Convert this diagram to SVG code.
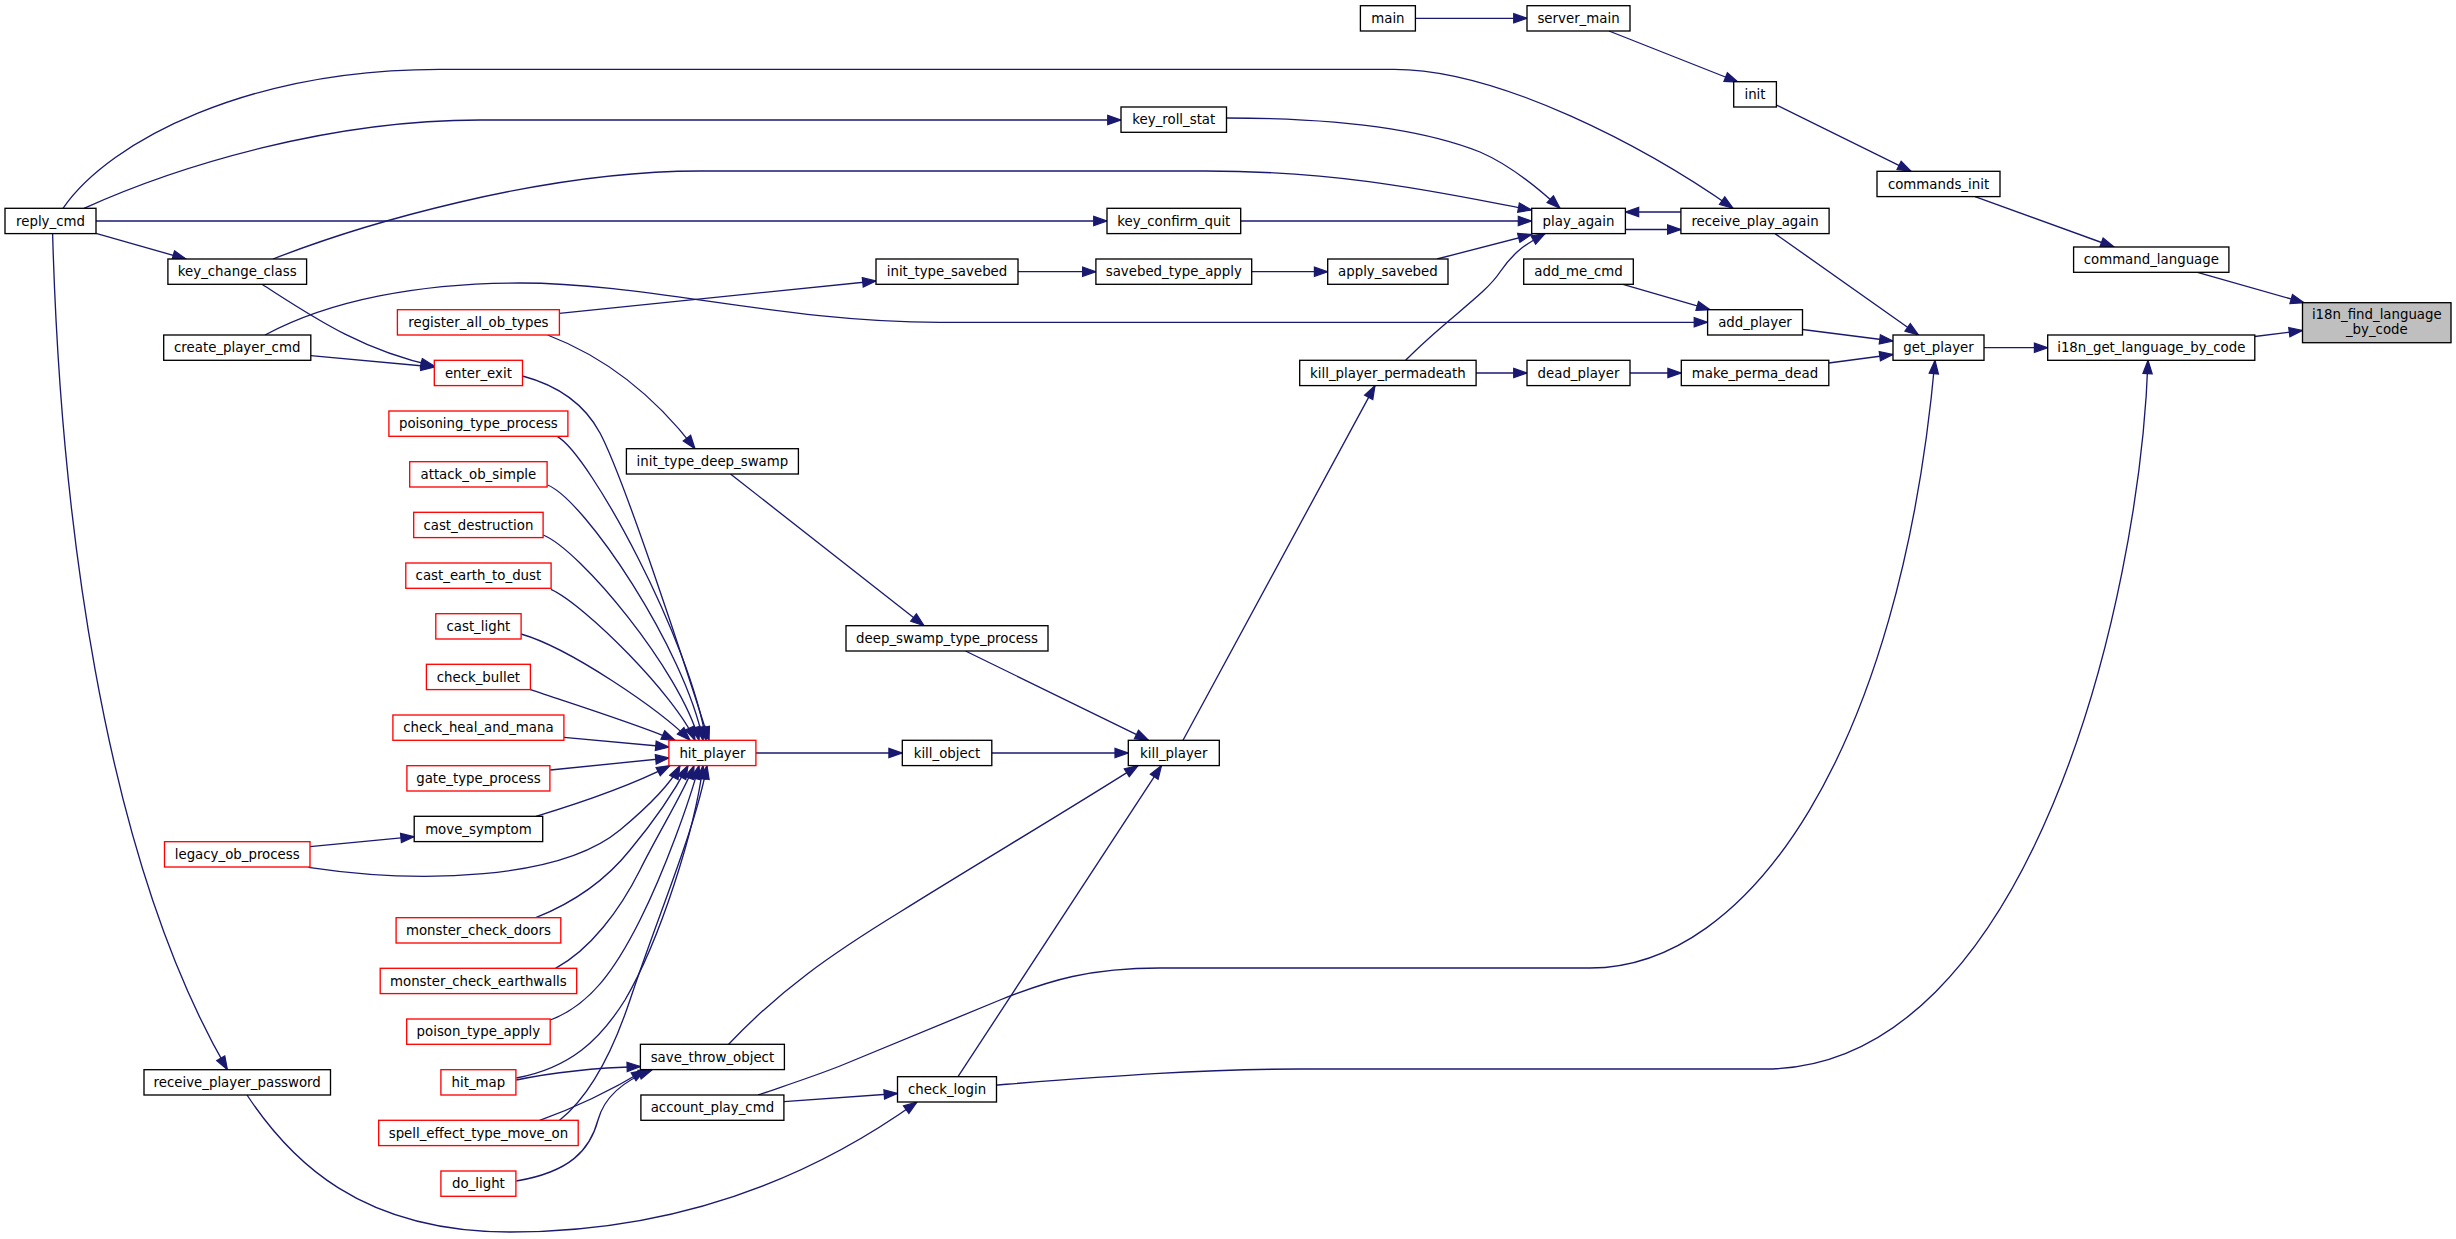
<svg xmlns="http://www.w3.org/2000/svg" width="2456" height="1239" viewBox="0 0 2456 1239">
<style>
.n rect{fill:#fff;stroke:#000;stroke-width:1.33}
.r rect{stroke:#f00}
.h rect{fill:#bfbfbf}
text{font-family:"DejaVu Sans","Liberation Sans",sans-serif;font-size:13.33px;text-anchor:middle;fill:#000}
#edges path{fill:none;stroke:#191970;stroke-width:1.33;marker-end:url(#a)}
</style>
<defs>
<marker id="a" markerUnits="userSpaceOnUse" markerWidth="16" markerHeight="12" refX="13.3" refY="4.67" orient="auto" overflow="visible">
<path d="M0,0 L13.3,4.67 L0,9.33 Z" fill="#191970" stroke="#191970" stroke-width="1.2"/>
</marker>
</defs>
<rect width="2456" height="1239" fill="#fff"/>
<g id="edges">
<path d="M2197.5,272.3 L2304,302.7"/>
<path d="M2254.8,336.5 L2302.5,330.5"/>
<path d="M1975,196.6 L2114,247"/>
<path d="M1776.3,105 L1911,171.3"/>
<path d="M1609,31 L1738,82"/>
<path d="M1415.4,18.3 L1527,18.3"/>
<path d="M1984,347.7 L2047.7,347.7"/>
<path d="M996.5,1085 C1100,1077 1200,1069 1300,1069 L1765,1069 C2030,1069 2140,600 2148,360.3"/>
<path d="M1775,233.6 L1918.5,335"/>
<path d="M1802.5,329.5 L1893,341"/>
<path d="M1828.8,363 L1893,354.5"/>
<path d="M758,1095 C790,1084 812,1077 840,1066 L1000,1000 C1050,980 1090,968 1160,968 L1590,968 C1750,968 1900,750 1935,360.3"/>
<path d="M1680.9,212 L1625.4,212"/>
<path d="M1625.4,229.5 L1680.9,229.5"/>
<path d="M63,208.3 C110,140 250,69.3 440,69.3 L1394,69.3 C1500,69.3 1647,148 1733,208.3"/>
<path d="M84,208.3 C180,165 330,120 480,120 L1121,120"/>
<path d="M1226.5,118 C1330,118 1420,128 1480,152 C1510,165 1535,185 1560,208.3"/>
<path d="M273,259 C360,225 540,171 700,171 L1205,171 C1350,171 1450,195 1531.6,210"/>
<path d="M96,221 L1107,221"/>
<path d="M1240.7,221 L1531.6,221"/>
<path d="M96,233.3 L186,259"/>
<path d="M262,284.3 C310,315 360,350 434.3,366"/>
<path d="M310.8,355.7 L434.3,367"/>
<path d="M265,335 C330,300 420,283 520,283 C650,283 780,322.3 940,322.3 L1707.5,322.3"/>
<path d="M559.4,313.3 L876,281"/>
<path d="M1018,271.7 L1095.9,271.7"/>
<path d="M1251.7,271.7 L1327.7,271.7"/>
<path d="M1437,259 L1531.6,234.5"/>
<path d="M1405.6,360.3 C1445,320 1485,295 1500,272 C1515,250 1528,243 1545,233.6"/>
<path d="M1623,284.3 L1710,309.7"/>
<path d="M1476,373 L1527,373"/>
<path d="M1630,373 L1681.2,373"/>
<path d="M1183,740.3 L1375,385.6"/>
<path d="M547.6,335 C600,355 650,390 695,448.7"/>
<path d="M730.5,474 L924,625.7"/>
<path d="M965.5,651 L1148.4,740.3"/>
<path d="M755.9,753 L902.2,753"/>
<path d="M991.7,753 L1128.3,753"/>
<path d="M728.6,1044.3 C780,990 830,955 900,912 C980,862 1060,815 1138,765.6"/>
<path d="M958,1076.7 L1161.5,765.6"/>
<path d="M784,1101.7 L897.5,1093.5"/>
<path d="M247,1095 C290,1160 360,1232 510,1232 C640,1232 780,1200 917,1102"/>
<path d="M52.6,233.6 C60,500 100,850 227.4,1069.7"/>
<path d="M536,816.3 C580,803 630,786 670,765.6"/>
<path d="M310,846.7 L414.2,836.7"/>
<path d="M308.4,867.3 C420,884 560,880 620,830 C650,805 670,785 680,765.6"/>
<path d="M535.8,917.7 C580,900 610,875 630,850 C655,820 675,790 688,765.6"/>
<path d="M555.5,968.3 C590,950 620,910 640,870 C660,830 685,790 694,765.6"/>
<path d="M550.4,1020 C590,1005 615,970 640,920 C665,870 690,800 699,765.6"/>
<path d="M516.4,1078 C570,1068 600,1040 625,1000 C660,940 695,830 703,765.6"/>
<path d="M516.4,1080 C550,1073 590,1068 640.4,1066.5"/>
<path d="M559.5,1120.3 C585,1100 610,1060 630,1000 C660,910 695,830 707,765.6"/>
<path d="M539.7,1120.3 C580,1106 615,1088 645,1070"/>
<path d="M516.4,1181 C570,1172 590,1150 598,1120 C605,1095 625,1080 652,1070"/>
<path d="M522.5,376 C560,386 585,405 600,433 C625,480 690,680 709,740.3"/>
<path d="M557.5,436.7 C590,455 690,640 706,740.3"/>
<path d="M547.6,485 C585,500 685,650 703,740.3"/>
<path d="M543.3,535 C580,550 680,670 699,740.3"/>
<path d="M551,589.3 C585,605 675,695 695,740.3"/>
<path d="M521,634 C570,648 660,710 690,740.3"/>
<path d="M530,689.3 C570,703 640,725 675,740.3"/>
<path d="M564,737.3 L669,747"/>
<path d="M550.4,770 L669,758"/>
</g>
<g id="i18n_find_language_by_code" class="n h"><rect x="2302.5" y="302.7" width="148.5" height="40"/><text x="2376.8" y="319">i18n_find_language</text><text x="2376.8" y="333.7">_by_code</text></g>
<g id="command_language" class="n"><rect x="2073.6" y="247" width="155.3" height="25.3"/><text x="2151.3" y="264.3">command_language</text></g>
<g id="i18n_get_language_by_code" class="n"><rect x="2047.7" y="335" width="207.1" height="25.3"/><text x="2151.3" y="352.3">i18n_get_language_by_code</text></g>
<g id="commands_init" class="n"><rect x="1877" y="171.3" width="123" height="25.3"/><text x="1938.5" y="188.6">commands_init</text></g>
<g id="get_player" class="n"><rect x="1893" y="335" width="91" height="25.3"/><text x="1938.5" y="352.3">get_player</text></g>
<g id="init" class="n"><rect x="1733.7" y="81.7" width="42.7" height="25.3"/><text x="1755" y="99">init</text></g>
<g id="receive_play_again" class="n"><rect x="1680.9" y="208.3" width="148.2" height="25.3"/><text x="1755" y="225.6">receive_play_again</text></g>
<g id="add_player" class="n"><rect x="1707.6" y="309.7" width="94.9" height="25.3"/><text x="1755" y="327">add_player</text></g>
<g id="make_perma_dead" class="n"><rect x="1681.3" y="360.3" width="147.5" height="25.3"/><text x="1755" y="377.6">make_perma_dead</text></g>
<g id="server_main" class="n"><rect x="1527" y="5.7" width="103" height="25.3"/><text x="1578.5" y="23">server_main</text></g>
<g id="play_again" class="n"><rect x="1531.7" y="208.3" width="93.7" height="25.3"/><text x="1578.5" y="225.6">play_again</text></g>
<g id="add_me_cmd" class="n"><rect x="1523.7" y="259" width="109.6" height="25.3"/><text x="1578.5" y="276.3">add_me_cmd</text></g>
<g id="dead_player" class="n"><rect x="1527" y="360.3" width="103" height="25.3"/><text x="1578.5" y="377.6">dead_player</text></g>
<g id="main" class="n"><rect x="1360.4" y="5.7" width="55" height="25.3"/><text x="1387.9" y="23">main</text></g>
<g id="apply_savebed" class="n"><rect x="1327.7" y="259" width="120.3" height="25.3"/><text x="1387.9" y="276.3">apply_savebed</text></g>
<g id="kill_player_permadeath" class="n"><rect x="1299.7" y="360.3" width="176.4" height="25.3"/><text x="1387.9" y="377.6">kill_player_permadeath</text></g>
<g id="key_roll_stat" class="n"><rect x="1121" y="107" width="105.5" height="25.3"/><text x="1173.8" y="124.3">key_roll_stat</text></g>
<g id="key_confirm_quit" class="n"><rect x="1107" y="208.3" width="133.7" height="25.3"/><text x="1173.8" y="225.6">key_confirm_quit</text></g>
<g id="savebed_type_apply" class="n"><rect x="1095.9" y="259" width="155.8" height="25.3"/><text x="1173.8" y="276.3">savebed_type_apply</text></g>
<g id="kill_player" class="n"><rect x="1128.3" y="740.3" width="91" height="25.3"/><text x="1173.8" y="757.6">kill_player</text></g>
<g id="init_type_savebed" class="n"><rect x="876" y="259" width="142" height="25.3"/><text x="947" y="276.3">init_type_savebed</text></g>
<g id="deep_swamp_type_process" class="n"><rect x="846" y="625.7" width="202" height="25.3"/><text x="947" y="643">deep_swamp_type_process</text></g>
<g id="kill_object" class="n"><rect x="902.3" y="740.3" width="89.5" height="25.3"/><text x="947" y="757.6">kill_object</text></g>
<g id="check_login" class="n"><rect x="897.5" y="1076.7" width="99" height="25.3"/><text x="947" y="1094">check_login</text></g>
<g id="init_type_deep_swamp" class="n"><rect x="626.4" y="448.7" width="172" height="25.3"/><text x="712.4" y="466">init_type_deep_swamp</text></g>
<g id="hit_player" class="n r"><rect x="668.9" y="740.3" width="87" height="25.3"/><text x="712.4" y="757.6">hit_player</text></g>
<g id="save_throw_object" class="n"><rect x="640.4" y="1044.3" width="144" height="25.3"/><text x="712.4" y="1061.6">save_throw_object</text></g>
<g id="account_play_cmd" class="n"><rect x="640.9" y="1095" width="143" height="25.3"/><text x="712.4" y="1112.3">account_play_cmd</text></g>
<g id="register_all_ob_types" class="n r"><rect x="397.4" y="309.7" width="162" height="25.3"/><text x="478.4" y="327">register_all_ob_types</text></g>
<g id="enter_exit" class="n r"><rect x="434.3" y="360.3" width="88.2" height="25.3"/><text x="478.4" y="377.6">enter_exit</text></g>
<g id="poisoning_type_process" class="n r"><rect x="388.9" y="411" width="179" height="25.3"/><text x="478.4" y="428.3">poisoning_type_process</text></g>
<g id="attack_ob_simple" class="n r"><rect x="409.7" y="461.7" width="137.4" height="25.3"/><text x="478.4" y="479">attack_ob_simple</text></g>
<g id="cast_destruction" class="n r"><rect x="413.7" y="512.3" width="129.4" height="25.3"/><text x="478.4" y="529.6">cast_destruction</text></g>
<g id="cast_earth_to_dust" class="n r"><rect x="405.8" y="563" width="145.3" height="25.3"/><text x="478.4" y="580.3">cast_earth_to_dust</text></g>
<g id="cast_light" class="n r"><rect x="435.8" y="613.7" width="85.3" height="25.3"/><text x="478.4" y="631">cast_light</text></g>
<g id="check_bullet" class="n r"><rect x="426.4" y="664.3" width="104" height="25.3"/><text x="478.4" y="681.6">check_bullet</text></g>
<g id="check_heal_and_mana" class="n r"><rect x="392.9" y="715" width="171" height="25.3"/><text x="478.4" y="732.3">check_heal_and_mana</text></g>
<g id="gate_type_process" class="n r"><rect x="406.9" y="765.7" width="143" height="25.3"/><text x="478.4" y="783">gate_type_process</text></g>
<g id="move_symptom" class="n"><rect x="414.2" y="816.3" width="128.5" height="25.3"/><text x="478.4" y="833.6">move_symptom</text></g>
<g id="monster_check_doors" class="n r"><rect x="396.1" y="917.7" width="164.7" height="25.3"/><text x="478.4" y="935">monster_check_doors</text></g>
<g id="monster_check_earthwalls" class="n r"><rect x="380.2" y="968.3" width="196.5" height="25.3"/><text x="478.4" y="985.6">monster_check_earthwalls</text></g>
<g id="poison_type_apply" class="n r"><rect x="406.7" y="1019" width="143.5" height="25.3"/><text x="478.4" y="1036.3">poison_type_apply</text></g>
<g id="hit_map" class="n r"><rect x="440.9" y="1069.7" width="75" height="25.3"/><text x="478.4" y="1087">hit_map</text></g>
<g id="spell_effect_type_move_on" class="n r"><rect x="378.7" y="1120.3" width="199.5" height="25.3"/><text x="478.4" y="1137.6">spell_effect_type_move_on</text></g>
<g id="do_light" class="n r"><rect x="440.9" y="1171" width="75" height="25.3"/><text x="478.4" y="1188.3">do_light</text></g>
<g id="key_change_class" class="n"><rect x="167.9" y="259" width="138.7" height="25.3"/><text x="237.2" y="276.3">key_change_class</text></g>
<g id="create_player_cmd" class="n"><rect x="163.7" y="335" width="147.1" height="25.3"/><text x="237.2" y="352.3">create_player_cmd</text></g>
<g id="legacy_ob_process" class="n r"><rect x="164.5" y="841.7" width="145.5" height="25.3"/><text x="237.2" y="859">legacy_ob_process</text></g>
<g id="receive_player_password" class="n"><rect x="144" y="1069.7" width="186.5" height="25.3"/><text x="237.2" y="1087">receive_player_password</text></g>
<g id="reply_cmd" class="n"><rect x="5" y="208.3" width="91" height="25.3"/><text x="50.5" y="225.6">reply_cmd</text></g>
</svg>
